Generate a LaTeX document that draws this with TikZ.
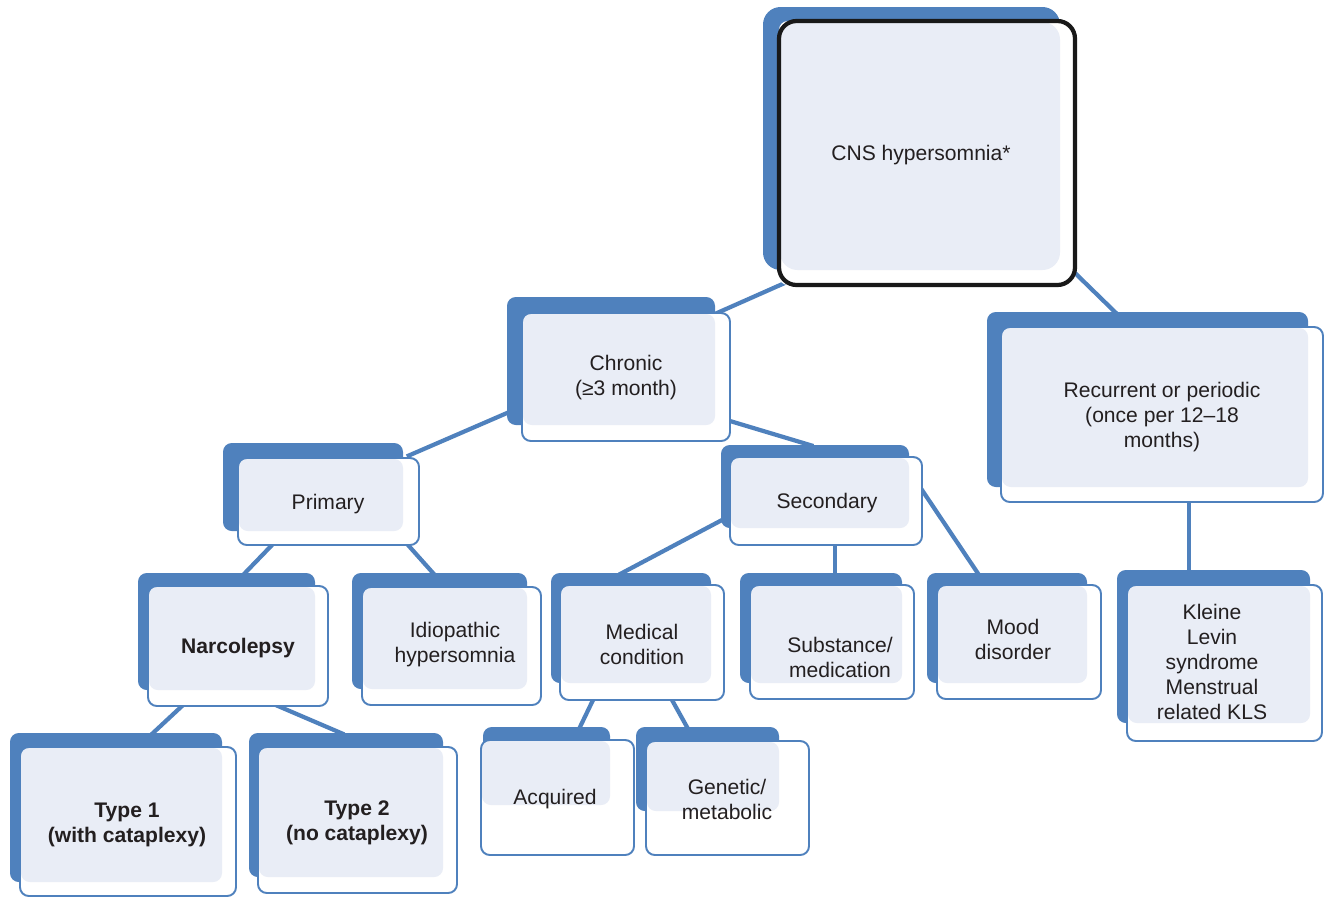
\documentclass[tikz,border=0pt]{standalone}
\usepackage{fontspec}
\setmainfont{Liberation Sans}
\usetikzlibrary{fit,calc}
\definecolor{catblue}{RGB}{79,129,189}
\definecolor{catpale}{RGB}{233,237,246}
\definecolor{catink}{RGB}{35,31,32}
\pgfdeclarelayer{background}
\pgfsetlayers{background,main}
\tikzset{
  backbox/.style={fill=catblue, rounded corners=5pt},
  palebox/.style={fill=catpale, rounded corners=5pt},
  edgebox/.style={draw=catblue, line width=1.1pt, rounded corners=5pt},
  boxtext/.style={align=center, text=catink, inner sep=0pt, yshift=-1pt,
    font=\fontsize{12}{14.3}\selectfont},
  link/.style={draw=catblue, line width=2.4pt, shorten <=-2pt, shorten >=-2pt}
}
% box: name, back corners, frame corners (pixels, y down)
\newcommand{\catbox}[9]{%
  \fill[backbox] (#2,#3) rectangle (#4,#5);
  \node[fit={(#6,#7) (#8,#9)}, inner sep=0pt, outer sep=0pt, fill=white,
    rounded corners=5pt] (#1) {};
  \fill[palebox] (#6+1,#7+1) rectangle (#4,#5);
  \draw[edgebox] (#1.north west) rectangle (#1.south east);
}

\begin{document}
\begin{tikzpicture}[x=0.02cm, y=-0.02cm]
    \useasboundingbox (0,0) rectangle (1325,897);

    % top box
    \begin{scope}[backbox/.style={fill=catblue, rounded corners=10pt},
        palebox/.style={fill=catpale, rounded corners=10pt},
        edgebox/.style={draw=black!90, line width=2.4pt, rounded corners=10pt}]
        \catbox{cns}{763}{7}{1060}{270}{779}{21}{1075}{285}
    \end{scope}
    \node[boxtext] (cns-t) at (921,153) {CNS hypersomnia*};

    % second level
    \catbox{chronic}{507}{297}{715}{425}{522}{313}{730}{441}
    \node[boxtext] (chronic-t) at (626,376) {Chronic\\(≥3 month)};
    \catbox{recur}{987}{312}{1308}{487}{1001}{327}{1323}{502}
    \node[boxtext] (recur-t) at (1162,415) {Recurrent or periodic\\(once per 12–18\\months)};

    % third level
    \catbox{primary}{223}{443}{403}{531}{238}{458}{419}{545}
    \node[boxtext] (primary-t) at (328,502) {Primary};
    \catbox{second}{721}{445}{909}{528}{730}{457}{922}{545}
    \node[boxtext] (second-t) at (827,501) {Secondary};
    \catbox{kls}{1117}{570}{1310}{723}{1127}{585}{1322}{741}
    \node[boxtext] (kls-t) at (1212,660) {Kleine\\Levin\\syndrome\\Menstrual\\related KLS};

    % fourth level
    \catbox{narco}{138}{573}{315}{690}{148}{586}{328}{706}
    \node[boxtext, font=\fontsize{12}{14.3}\selectfont\bfseries] (narco-t) at (238,646) {Narcolepsy};
    \catbox{idio}{352}{573}{527}{689}{362}{587}{541}{705}
    \node[boxtext] (idio-t) at (455,643) {Idiopathic\\hypersomnia};
    \catbox{medic}{551}{573}{711}{683}{560}{585}{724}{700}
    \node[boxtext] (medic-t) at (642,643) {Medical\\condition};
    \catbox{subst}{740}{573}{902}{683}{750}{585}{914}{699}
    \node[boxtext] (subst-t) at (840,656) {Substance/\\medication};
    \catbox{mood}{927}{573}{1087}{683}{937}{585}{1101}{699}
    \node[boxtext] (mood-t) at (1013,638) {Mood\\disorder};

    % bottom level
    \catbox{type1}{10}{733}{222}{882}{20}{747}{236}{896}
    \node[boxtext, font=\fontsize{12}{14.3}\selectfont\bfseries] (type1-t) at (127,823) {Type 1\\(with cataplexy)};
    \catbox{type2}{249}{733}{443}{877}{258}{747}{457}{893}
    \node[boxtext, font=\fontsize{12}{14.3}\selectfont\bfseries] (type2-t) at (357,821) {Type 2\\(no cataplexy)};
    \catbox{acq}{483}{727}{610}{805}{481}{740}{634}{855}
    \node[boxtext] (acq-t) at (555,797) {Acquired};
    \catbox{genet}{636}{727}{779}{811}{646}{741}{809}{855}
    \node[boxtext] (genet-t) at (727,798) {Genetic/\\metabolic};

    % connectors
    \begin{pgfonlayer}{background}
        \draw[link] ($(cns.south west)+(8,-3)$) -- ($(chronic.north east)+(-13,0)$);
        \draw[link] ($(cns.south east)+(0,-12)$) -- ($(recur.north west)+(114,-15)$);
        \draw[link] ($(chronic.south west)+(-15,-28)$) -- ($(primary.north east)+(-9,-3)$);
        \draw[link] ($(chronic.south east)+(0,-20)$) -- ($(second.north)+(-16,-12)$);
        \draw[link] ($(second.south west)+(-8,-25)$) -- ($(medic.north)+(-20,-12)$);
        \draw[link] ($(second.south)+(9,0)$) -- ($(subst.north)+(3,-12)$);
        \draw[link] ($(second.east)+(0,-11)$) -- ($(mood.north)+(-42,-13)$);
        \draw[link] ($(recur.south)+(27,0)$) -- ($(kls.north)+(-35.5,-15)$);
        \draw[link] ($(primary.south)+(-56.5,0)$) -- ($(narco.north)+(7,-13)$);
        \draw[link] ($(primary.south east)+(-11,0)$) -- ($(idio.north)+(-18.5,-14)$);
        \draw[link] ($(narco.south)+(-56,0)$) -- ($(type1.north)+(25,-14)$);
        \draw[link] ($(narco.south)+(40,0)$) -- ($(type2.north)+(-16.5,-14)$);
        \draw[link] ($(medic.south)+(-49,0)$) -- ($(acq.north)+(22.5,-13)$);
        \draw[link] ($(medic.south)+(30,0)$) -- ($(genet.north)+(-40.5,-14)$);
    \end{pgfonlayer}
\end{tikzpicture}
\end{document}
